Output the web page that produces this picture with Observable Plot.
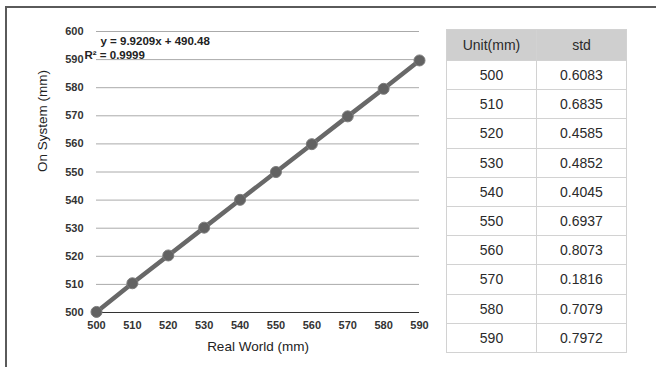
<!DOCTYPE html>
<html>
<head>
<meta charset="utf-8">
<script src="https://cdn.jsdelivr.net/npm/d3@7"></script>
<script src="https://cdn.jsdelivr.net/npm/@observablehq/plot@0.6"></script>
<style>
  html, body { margin: 0; padding: 0; background: #fff; }
  body { width: 656px; height: 367px; position: relative; overflow: hidden; font-family: "Liberation Sans", Arial, sans-serif; }
  #frame { position: absolute; left: 5px; top: 6px; width: 660px; height: 370px; border-top: 2px solid #5a5a5a; border-left: 2px solid #5a5a5a; }
  #chart { position: absolute; left: 0; top: 0; }
  #tbl { position: absolute; left: 446px; top: 29px; border-collapse: collapse; font-size: 14px; color: #2a2a2a; }
  #tbl td, #tbl th { border: 1px solid #d2d2d2; text-align: center; font-weight: normal; padding: 0; height: 28.2px; }
  #tbl th { background: #cfcfcf; height: 30px; }
</style>
</head>
<body>
<div id="frame"></div>
<div id="chart"></div>
<table id="tbl"></table>
<script>
const realWorld = [500, 510, 520, 530, 540, 550, 560, 570, 580, 590];
const onSystem = [500.2, 510.4, 520.3, 530.2, 540.1, 550.0, 559.9, 569.8, 579.6, 589.7];
const stdValues = ["0.6083", "0.6835", "0.4585", "0.4852", "0.4045", "0.6937", "0.8073", "0.1816", "0.7079", "0.7972"];
const xTicks = [500, 510, 520, 530, 540, 550, 560, 570, 580, 590];
const yTicks = [500, 510, 520, 530, 540, 550, 560, 570, 580, 590, 600];
const tableHeader = ["Unit(mm)", "std"];
const equationLines = ["y = 9.9209x + 490.48", "R² = 0.9999"];

const data = realWorld.map((x, i) => ({x, y: onSystem[i]}));

const chart = Plot.plot({
  width: 430,
  height: 367,
  marginLeft: 96,
  marginRight: 11,
  marginTop: 31,
  marginBottom: 55,
  style: {fontFamily: "'Liberation Sans', Arial, sans-serif", background: "transparent"},
  x: {domain: [500, 590]},
  y: {domain: [500, 600]},
  marks: [
    Plot.ruleY(yTicks.filter(d => d > 500), {stroke: "#aaaaaa", strokeWidth: 1}),
    Plot.ruleY([500], {stroke: "#333", strokeWidth: 1.2}),
    Plot.axisY({ticks: yTicks, tickSize: 0, tickPadding: 13, fontSize: 11, fontWeight: "bold", fill: "#333", label: null}),
    Plot.axisX({ticks: xTicks, tickSize: 0, tickPadding: 9, fontSize: 11, fontWeight: "bold", fill: "#333", label: null}),
    Plot.text(["On System (mm)"], {frameAnchor: "left", dx: -54, rotate: -90, fontSize: 13.5, fill: "#222"}),
    Plot.text(["Real World (mm)"], {frameAnchor: "bottom", dy: 38, fontSize: 13.5, fill: "#222"}),
    Plot.line(data, {x: "x", y: "y", stroke: "#686868", strokeWidth: 4.5}),
    Plot.dot(data, {x: "x", y: "y", r: 5.5, fill: "#626262", stroke: "#7a7a7a", strokeWidth: 1}),
    Plot.text([equationLines[0]], {frameAnchor: "top-left", dx: 4, dy: 5, fontSize: 11.5, fontWeight: "bold", fill: "#222", textAnchor: "start"}),
    Plot.text([equationLines[1]], {frameAnchor: "top-left", dx: -12, dy: 19, fontSize: 11.5, fontWeight: "bold", fill: "#222", textAnchor: "start"})
  ]
});
document.getElementById("chart").appendChild(chart);

const tbl = d3.select("#tbl");
tbl.append("tr").selectAll("th").data(tableHeader).join("th").text(d => d).style("width", "89px");
realWorld.forEach((u, i) => {
  const tr = tbl.append("tr");
  tr.append("td").text(u);
  tr.append("td").text(stdValues[i]);
});
</script>
</body>
</html>
